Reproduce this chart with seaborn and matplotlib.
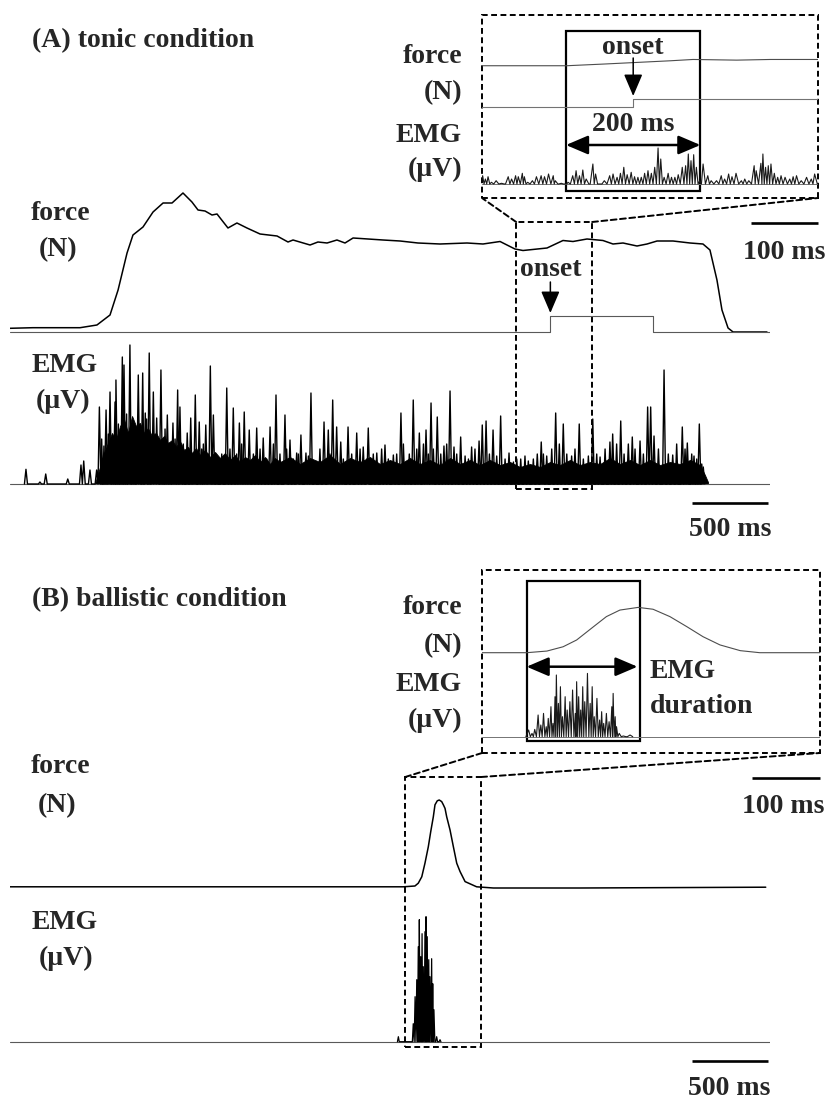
import numpy as np
import matplotlib
matplotlib.use("Agg")
import matplotlib.pyplot as plt
import seaborn as sns
from matplotlib.patches import Rectangle, ConnectionPatch

# ---------------- data (time in ms) ----------------
# (A) tonic condition - force (N)
tonic_force_t = [0, 151, 461, 572, 658, 711, 770, 809, 875, 941,
                 1007, 1066, 1138, 1197, 1237, 1283, 1329, 1362, 1434, 1493,
                 1559, 1645, 1757, 1829, 1862, 1974, 2026, 2086, 2151, 2204,
                 2257, 2454, 2566, 2684, 2829, 3007, 3112, 3224, 3322, 3375,
                 3533, 3638, 3704, 3796, 3901, 3967, 4033, 4125, 4191, 4257,
                 4362, 4474, 4559, 4605, 4651, 4684, 4724, 4757, 4980]
tonic_force_n = [0.34, 0.46, 0.46, 1.0, 3.0, 8.0, 15.4, 19.0, 20.6, 23.6,
                 25.4, 25.4, 27.4, 25.6, 24.0, 23.8, 23.0, 23.2, 20.4, 21.4,
                 20.4, 19.2, 18.8, 17.6, 18.0, 17.0, 17.6, 17.4, 18.0, 17.4,
                 18.4, 18.0, 17.8, 17.4, 17.2, 17.4, 17.2, 17.7, 16.2, 15.9,
                 16.4, 17.9, 17.7, 18.2, 17.9, 17.2, 17.4, 16.8, 17.2, 17.8,
                 17.8, 17.4, 17.2, 16.0, 10.0, 4.0, 0.4, -0.4, -0.4]
onset_on, onset_off = 3555, 4230

# tonic EMG: tall spikes, medium spikes and the envelope of the dense activity (uV)
tonic_spike_t = [105, 197, 235, 380, 467, 485, 526, 570,
                 588, 632, 658, 691, 697, 739, 750, 789, 807, 844,
                 873, 890, 916, 943, 965, 993, 1035, 1072, 1103, 1118,
                 1166, 1189, 1219, 1245, 1288, 1318, 1338, 1426, 1469, 1509,
                 1541, 1574, 1623, 1666, 1711, 1750, 1809, 1842, 1886, 1914,
                 1947, 1980, 2066, 2094, 2123, 2149, 2176, 2224, 2281, 2324,
                 2357, 2413, 2467, 2522, 2572, 2610, 2653, 2693, 2737, 2770,
                 2811, 2855, 2895, 2921, 2965, 3037, 3086, 3107, 3132, 3178,
                 3228, 3283, 3334, 3410, 3469, 3495, 3531, 3590, 3640, 3695,
                 3745, 3834, 3882, 3947, 3965, 4018, 4068, 4094, 4145, 4195,
                 4215, 4237, 4303, 4360, 4423, 4456, 4500, 4535, 4561]
tonic_spike_uv = [147, 20, 100, 50, 190, 230, 140, 140,
                  770, 740, 920, 820, 1040, 1270, 1190, 1390, 370, 1090,
                  1110, 710, 1310, 920, 660, 1140, 690, 610, 940, 770,
                  510, 660, 890, 620, 590, 1180, 690, 960, 760, 610,
                  720, 540, 560, 460, 570, 890, 690, 440, 310, 490,
                  310, 910, 620, 540, 840, 570, 420, 570, 510, 370,
                  560, 310, 390, 290, 710, 220, 840, 510, 540, 810,
                  670, 380, 930, 370, 470, 370, 430, 590, 630, 540,
                  680, 310, 250, 230, 300, 420, 280, 710, 600, 280,
                  600, 650, 270, 420, 500, 630, 400, 470, 430, 770,
                  770, 480, 1140, 290, 570, 410, 280, 600, 170]
tonic_mid_t = [603, 618, 647, 675, 713, 724, 767, 778, 822, 833,
               855, 899, 932, 954, 976, 1009, 1020, 1053, 1086, 1130,
               1140, 1206, 1261, 1272, 1305, 1360, 1393, 1447, 1491, 1524,
               1557, 1601, 1645, 1689, 1733, 1776, 1820, 1864, 1897, 1963,
               2007, 2039, 2105, 2193, 2248, 2303, 2347, 2390, 2445, 2489,
               2544, 2588, 2627, 2676, 2720, 2752, 2785, 2834, 2873, 2939,
               2994, 3016, 3059, 3154, 3202, 3257, 3312, 3360, 3388, 3443,
               3509, 3564, 3614, 3663, 3717, 3772, 3805, 3860, 3915, 3991,
               4040, 4112, 4167, 4266, 4331, 4386, 4441, 4485, 4518, 4551]
tonic_mid_uv = [450, 380, 500, 400, 600, 450, 700, 500, 400, 550,
                600, 650, 450, 500, 400, 450, 550, 400, 450, 350,
                400, 300, 350, 400, 300, 250, 300, 350, 300, 400,
                250, 300, 350, 250, 400, 300, 350, 250, 300, 280,
                220, 350, 300, 250, 300, 350, 250, 300, 350, 250,
                300, 400, 300, 350, 400, 300, 350, 300, 400, 300,
                280, 250, 350, 300, 280, 250, 220, 250, 280, 250,
                300, 350, 400, 300, 350, 250, 280, 300, 350, 400,
                300, 350, 300, 350, 300, 400, 350, 300, 250, 200]
tonic_env_t = [559, 572, 592, 618, 645, 671, 697, 724, 750, 776,
               803, 829, 855, 882, 908, 934, 961, 987, 1013, 1039,
               1066, 1092, 1118, 1145, 1171, 1197, 1224, 1250, 1283, 1316,
               1349, 1382, 1414, 1447, 1480, 1513, 1546, 1579, 1612, 1645,
               1678, 1711, 1743, 1776, 1842, 1908, 1974, 2039, 2105, 2171,
               2237, 2303, 2368, 2434, 2500, 2566, 2632, 2697, 2763, 2829,
               2895, 2961, 3026, 3092, 3158, 3224, 3290, 3355, 3421, 3487,
               3553, 3618, 3684, 3750, 3816, 3882, 3947, 4013, 4079, 4145,
               4211, 4276, 4342, 4408, 4474, 4540, 4572, 4592]
tonic_env_uv = [0, 70, 170, 310, 410, 510, 440, 580, 650, 510,
                680, 580, 610, 510, 560, 480, 510, 440, 480, 410,
                440, 370, 430, 340, 370, 310, 360, 290, 340, 270,
                320, 260, 310, 240, 290, 220, 270, 240, 290, 220,
                270, 200, 260, 220, 270, 200, 260, 220, 290, 200,
                260, 220, 270, 200, 240, 200, 260, 200, 240, 190,
                260, 200, 240, 190, 240, 190, 220, 170, 200, 170,
                220, 190, 240, 190, 220, 200, 260, 200, 240, 190,
                240, 190, 220, 200, 240, 190, 90, 20]

# tonic zoom window (500 ms)
zoom_a = (3330, 3830)
zoom_a_force_t = [3330, 3456, 3510, 3560, 3610, 3644, 3709, 3759, 3830]
zoom_a_force_n = [16.2, 16.2, 16.7, 17.2, 17.7, 18.1, 17.9, 18.1, 18.1]
zoom_a_emg_t = [3331, 3335, 3339, 3344, 3351, 3359, 3369, 3374, 3380, 3384,
                3390, 3393, 3398, 3405, 3411, 3418, 3423, 3429, 3436, 3439,
                3448, 3454, 3458, 3465, 3470, 3475, 3480, 3485, 3495, 3499,
                3505, 3512, 3520, 3525, 3531, 3536, 3541, 3546, 3552, 3557,
                3562, 3567, 3572, 3577, 3582, 3587, 3592, 3596, 3601, 3607,
                3612, 3617, 3622, 3628, 3633, 3637, 3641, 3645, 3649, 3654,
                3659, 3666, 3671, 3679, 3686, 3691, 3697, 3702, 3708, 3716,
                3721, 3727, 3735, 3738, 3745, 3748, 3752, 3756, 3760, 3765,
                3770, 3775, 3781, 3788, 3793, 3798, 3805, 3813, 3820, 3825]
zoom_a_emg_uv = [166, 100, 146, 34, 66, 14, 146, 100, 166, 146,
                 214, 146, 34, 66, 146, 166, 146, 200, 166, 66,
                 14, 0, 34, 166, 266, 166, 280, 100, 400, 200,
                 0, 66, 166, 200, 134, 214, 334, 186, 234, 146,
                 134, 134, 214, 266, 214, 334, 720, 500, 134, 214,
                 134, 134, 186, 334, 366, 600, 466, 586, 334, 66,
                 400, 166, 66, 66, 166, 100, 200, 146, 214, 66,
                 100, 66, 366, 266, 414, 600, 334, 366, 400, 214,
                 134, 166, 134, 100, 146, 166, 66, 134, 100, 200]

# (B) ballistic condition
ball_force_t = [0, 2588, 2664, 2686, 2709, 2730, 2752, 2768, 2785, 2796,
                2811, 2824, 2840, 2851, 2862, 2873, 2895, 2917, 2939, 2961,
                2994, 3070, 3180, 3750, 4972]
ball_force_n = [0.3, 0.3, 0.5, 1.2, 2.8, 6.2, 10.3, 14.1, 17.8, 20.8,
                21.8, 22.0, 21.6, 20.8, 19.9, 17.8, 14.5, 10.3, 6.2, 4.1,
                1.6, 0.3, 0.0, 0.0, 0.2]
ball_emg_t = [2555, 2653, 2665, 2676, 2686, 2693, 2702, 2711, 2719, 2730,
              2737, 2745, 2755, 2763, 2774, 2781, 2789, 2807, 2829]
ball_emg_uv = [50, 180, 450, 620, 950, 1220, 850, 1080, 750, 1100,
               1250, 1050, 820, 650, 830, 580, 320, 50, 20]

zoom_b = (2600, 3100)
emg_duration = (2666, 2833)
zoom_b_force_t = [2600, 2666, 2696, 2720, 2740, 2765, 2784, 2804, 2831,
                  2853, 2878, 2903, 2927, 2952, 2982, 3011, 3100]
zoom_b_force_n = [0.0, 0.0, 0.8, 2.9, 6.2, 12.7, 17.6, 20.8, 22.1,
                  21.2, 17.6, 12.7, 7.8, 3.8, 1.0, 0.0, 0.0]
zoom_b_emg_t = [2669, 2674, 2678, 2683, 2687, 2691, 2695, 2698, 2702, 2705,
                2708, 2710, 2713, 2716, 2719, 2723, 2726, 2730, 2734, 2738,
                2740, 2743, 2746, 2749, 2752, 2756, 2760, 2763, 2766, 2770,
                2774, 2777, 2780, 2784, 2788, 2792, 2794, 2797, 2799, 2803,
                2809, 2819]
zoom_b_emg_uv = [134, 66, 146, 434, 234, 466, 200, 366, 600, 266,
                 800, 1234, 666, 1000, 400, 800, 534, 700, 934, 466,
                 1100, 800, 534, 1000, 700, 1266, 666, 1000, 400, 766,
                 334, 500, 266, 466, 300, 600, 866, 400, 200, 66,
                 14, 34]

# ---------------- style ----------------
sns.set_style("white")
plt.rcParams["font.family"] = ["Liberation Serif", "DejaVu Serif"]
plt.rcParams["font.weight"] = "bold"

W, H = 829, 1099
DASH = (0, (3, 1.8))
FS = 20
fig = plt.figure(figsize=(W / 100, H / 100), dpi=100)


def px_axes(x0, x1, y0, y1):
    ax = fig.add_axes([x0 / W, 1 - y1 / H, (x1 - x0) / W, (y1 - y0) / H])
    ax.set_axis_off()
    return ax


def label(x, y, s, ha="center"):
    fig.text(x / W, 1 - y / H, s, ha=ha, va="baseline", fontsize=FS, fontweight="bold")


def spikes(t, h, width=10.0):
    # rectified EMG: every listed peak drawn as a narrow spike from the baseline
    t = np.asarray(t, float)
    h = np.asarray(h, float)
    xs, ys = [], []
    for i in range(len(t)):
        lo = t[i] - width if i == 0 else max(t[i] - width, (t[i - 1] + t[i]) / 2)
        hi = t[i] + width if i == len(t) - 1 else min(t[i] + width, (t[i] + t[i + 1]) / 2)
        xs += [lo, t[i], hi]
        ys += [0.0, h[i], 0.0]
    return np.array(xs), np.array(ys)


def trace(ax, x, y, lw=1.0, color="black"):
    sns.lineplot(x=np.asarray(x, float), y=np.asarray(y, float), ax=ax, color=color,
                 lw=lw, sort=False, estimator=None, legend=False)


def dashed_box(ax, x, y, w, h, **kw):
    ax.add_patch(Rectangle((x, y), w, h, fill=False, edgecolor="black",
                           ls=DASH, lw=1.4, clip_on=False, **kw))


def solid_box(ax, x, y, w, h):
    ax.add_patch(Rectangle((x, y), w, h, fill=False, edgecolor="black", lw=1.6))


def scale_bar(ax, x0, x1, y):
    ax.plot([x0, x1], [y, y], color="black", lw=1.9, clip_on=False, solid_capstyle="butt")


def dashed_link(ax_from, xy_from, ax_to, xy_to):
    fig.add_artist(ConnectionPatch(xyA=xy_from, coordsA=ax_from.transData,
                                   xyB=xy_to, coordsB=ax_to.transData,
                                   ls=DASH, lw=1.4, color="black"))


def arrow_down(ax, x, y_tail, y_tip):
    ax.annotate("", xy=(x, y_tip), xytext=(x, y_tail),
                arrowprops=dict(arrowstyle="-|>,head_length=0.75,head_width=0.32",
                                mutation_scale=18, lw=1.1, color="black",
                                shrinkA=0, shrinkB=0))


def double_arrow(ax, x0, x1, y):
    ax.annotate("", xy=(x1, y), xytext=(x0, y),
                arrowprops=dict(arrowstyle="<|-|>,head_length=0.75,head_width=0.32",
                                mutation_scale=18, lw=1.8, color="black",
                                shrinkA=0, shrinkB=0))


# ================= (A) tonic condition =================
ax_a = px_axes(10, 770, 180, 500)
ax_a.set_xlim(0, 5000)
ax_a.set_ylim(0, 320)

trace(ax_a, tonic_force_t, 170 + 5 * np.array(tonic_force_n), lw=1.1)
step_t = [0, onset_on, onset_on, onset_off, onset_off, 5000]
step_v = np.array([0, 0, 1, 1, 0, 0])
trace(ax_a, step_t, 168.5 + 15.5 * step_v, lw=0.8, color="0.35")

ax_a.fill_between(tonic_env_t, 16, 16 + np.array(tonic_env_uv) / 10, color="black", lw=0.6)
trace(ax_a, [0, 5000], [16, 16], lw=0.8, color="0.35")
mx, my = spikes(tonic_mid_t, tonic_mid_uv, width=9)
trace(ax_a, mx, 16 + my / 10, lw=1.0)
sx, sy = spikes(tonic_spike_t, tonic_spike_uv, width=10)
trace(ax_a, sx, 16 + sy / 10, lw=1.0)

dashed_box(ax_a, zoom_a[0], 11, zoom_a[1] - zoom_a[0], 267)
ax_a.text(onset_on, 500 - 275.7, "onset", ha="center", va="baseline",
          fontsize=FS, fontweight="bold")
arrow_down(ax_a, onset_on, 500 - 282, 500 - 313)
scale_bar(ax_a, 4490, 4990, 500 - 502.7)

# zoom inset A
ax_ai = px_axes(482, 818, 15, 198)
ax_ai.set_xlim(*zoom_a)
ax_ai.set_ylim(0, 183)
dashed_box(ax_ai, 0, 0, 1, 1, transform=ax_ai.transAxes)
trace(ax_ai, zoom_a_force_t, 78.8 + 3.3 * np.array(zoom_a_force_n), lw=0.8, color="0.3")
trace(ax_ai, [zoom_a[0], onset_on, onset_on, zoom_a[1]],
      91 + 8 * np.array([0, 0, 1, 1]), lw=0.8, color="0.45")
trace(ax_ai, list(zoom_a), [14, 14], lw=0.7, color="0.45")
zx, zy = spikes(zoom_a_emg_t, zoom_a_emg_uv, width=4)
trace(ax_ai, zx, 14 + zy / 20, lw=0.8, color="0.1")
solid_box(ax_ai, onset_on - 100, 7, 200, 160)
ax_ai.text(onset_on, 198 - 54, "onset", ha="center", va="baseline",
           fontsize=FS, fontweight="bold")
arrow_down(ax_ai, onset_on, 198 - 58, 198 - 96)
ax_ai.text(onset_on, 198 - 130.7, "200 ms", ha="center", va="baseline",
           fontsize=FS, fontweight="bold")
double_arrow(ax_ai, onset_on - 100, onset_on + 100, 198 - 145)
scale_bar(ax_ai, zoom_a[1] - 100, zoom_a[1], 198 - 222.7)

dashed_link(ax_a, (zoom_a[0], 278), ax_ai, (zoom_a[0], 0))
dashed_link(ax_a, (zoom_a[1], 278), ax_ai, (zoom_a[1], 0))

label(32, 47.5, "(A) tonic condition", ha="left")
label(462, 62.7, "force", ha="right")
label(462, 99, "(N)", ha="right")
label(462, 141.7, "EMG", ha="right")
label(462, 175.7, "(µV)", ha="right")
label(61, 220, "force")
label(58, 256, "(N)")
label(65, 371.7, "EMG")
label(63, 408, "(µV)")
label(784, 259, "100 ms")
label(730, 536, "500 ms")

# ================= (B) ballistic condition =================
ax_b = px_axes(10, 770, 760, 1050)
ax_b.set_xlim(0, 5000)
ax_b.set_ylim(0, 290)

trace(ax_b, ball_force_t, 162 + 4 * np.array(ball_force_n), lw=1.1)
trace(ax_b, [0, 5000], [8.3, 8.3], lw=0.8, color="0.35")
bx, by = spikes(ball_emg_t, ball_emg_uv, width=6)
trace(ax_b, bx, 8.3 + by / 10, lw=0.9)
dashed_box(ax_b, zoom_b[0], 3.3, zoom_b[1] - zoom_b[0], 269.7)
scale_bar(ax_b, 4490, 4990, 1050 - 1060.7)

ax_bi = px_axes(482, 820, 570, 753)
ax_bi.set_xlim(*zoom_b)
ax_bi.set_ylim(0, 183)
dashed_box(ax_bi, 0, 0, 1, 1, transform=ax_bi.transAxes)
trace(ax_bi, zoom_b_force_t, 100.3 + 2.05 * np.array(zoom_b_force_n), lw=0.8, color="0.3")
trace(ax_bi, list(zoom_b), [16.3, 16.3], lw=0.7, color="0.45")
zbx, zby = spikes(zoom_b_emg_t, zoom_b_emg_uv, width=4)
trace(ax_bi, zbx, 16.3 + zby / 20, lw=0.8, color="0.1")
solid_box(ax_bi, emg_duration[0], 12.3, emg_duration[1] - emg_duration[0], 160)
double_arrow(ax_bi, emg_duration[0], emg_duration[1] - 3, 753 - 666.7)
scale_bar(ax_bi, zoom_b[1] - 100, zoom_b[1], 753 - 778.3)

dashed_link(ax_b, (zoom_b[0], 273), ax_bi, (zoom_b[0], 0))
dashed_link(ax_b, (zoom_b[1], 273), ax_bi, (zoom_b[1], 0))

label(32, 605.7, "(B) ballistic condition", ha="left")
label(462, 614, "force", ha="right")
label(462, 651.7, "(N)", ha="right")
label(462, 690.7, "EMG", ha="right")
label(462, 726.7, "(µV)", ha="right")
label(650, 677.7, "EMG", ha="left")
label(650, 712.7, "duration", ha="left")
label(61, 773.3, "force")
label(57.5, 811.7, "(N)")
label(65, 929, "EMG")
label(66, 965, "(µV)")
label(783, 813.3, "100 ms")
label(729, 1095, "500 ms")

fig.savefig("out.png", dpi=100, facecolor="white")
